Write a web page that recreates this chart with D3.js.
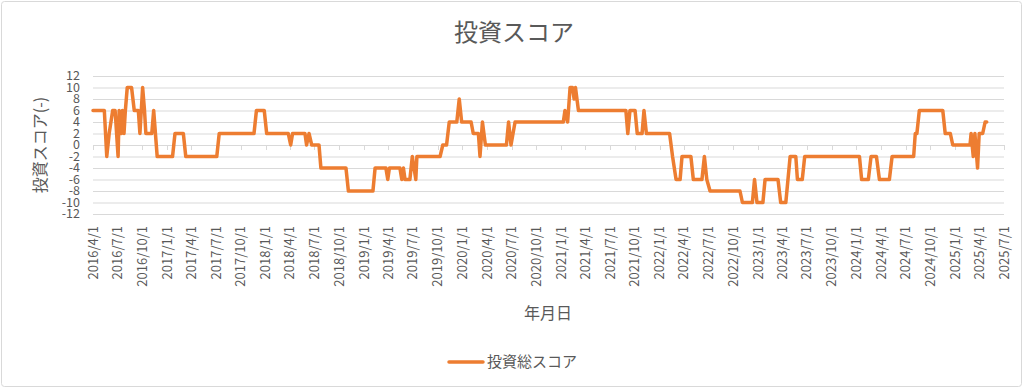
<!DOCTYPE html>
<html>
<head>
<meta charset="utf-8">
<script src="https://cdn.jsdelivr.net/npm/d3@7"></script>
<style>
  body { margin: 0; background: #fff; }
  text { font-family: "Noto Sans CJK JP", "Noto Sans", sans-serif; fill: #595959; }
</style>
</head>
<body>
<div id="chart"></div>
<script>
// 投資総スコア (date, value)
var dates = [
  "2016/4/1","2016/5/13","2016/5/22","2016/5/31","2016/6/13","2016/6/22","2016/7/3","2016/7/7",
  "2016/7/15","2016/7/19","2016/7/25","2016/7/30","2016/8/6","2016/8/22","2016/9/1","2016/9/16",
  "2016/9/22","2016/10/2","2016/10/9","2016/10/14","2016/11/5","2016/11/12","2016/11/25","2017/1/21",
  "2017/1/30","2017/3/2","2017/3/11","2017/7/4","2017/7/13","2017/11/19","2017/11/28","2017/12/27",
  "2018/1/5","2018/3/26","2018/4/4","2018/4/11","2018/5/27","2018/6/2","2018/6/11","2018/6/21",
  "2018/7/18","2018/7/25","2018/10/26","2018/11/4","2019/2/3","2019/2/11","2019/3/23","2019/3/30",
  "2019/4/5","2019/5/14","2019/5/21","2019/5/27","2019/6/2","2019/6/20","2019/6/29","2019/7/12",
  "2019/7/16","2019/10/10","2019/10/20","2019/11/3","2019/11/13","2019/12/11","2019/12/20","2019/12/29",
  "2020/2/2","2020/2/10","2020/2/29","2020/3/6","2020/3/15","2020/3/26","2020/6/12","2020/6/20",
  "2020/6/29","2020/7/14","2021/1/9","2021/1/15","2021/1/25","2021/2/3","2021/2/12","2021/2/18",
  "2021/2/23","2021/3/6","2021/8/29","2021/9/5","2021/9/13","2021/10/2","2021/10/10","2021/10/28",
  "2021/11/4","2021/11/13","2022/2/7","2022/2/18","2022/3/3","2022/3/18","2022/3/25","2022/4/27",
  "2022/5/6","2022/6/7","2022/6/16","2022/6/25","2022/7/7","2022/10/26","2022/11/4","2022/12/11",
  "2022/12/19","2022/12/28","2023/1/19","2023/1/27","2023/3/16","2023/3/26","2023/4/14","2023/4/30",
  "2023/5/21","2023/5/27","2023/6/14","2023/6/23","2024/1/12","2024/1/20","2024/2/14","2024/2/24",
  "2024/3/15","2024/3/26","2024/5/2","2024/5/12","2024/7/31","2024/8/6","2024/8/12","2024/8/21",
  "2024/11/16","2024/11/25","2024/12/14","2024/12/23","2025/2/25","2025/3/1","2025/3/9","2025/3/15",
  "2025/3/25","2025/3/31","2025/4/13","2025/4/22","2025/4/28"
];
var values = [
  6, 6, -2, 2, 6, 6, -2, 6,
  2, 6, 2, 6, 10, 10, 6, 6,
  2, 10, 6, 2, 2, 6, -2, -2,
  2, 2, -2, -2, 2, 2, 6, 6,
  2, 2, 0, 2, 2, 0, 2, 0,
  0, -4, -4, -8, -8, -4, -4, -6,
  -4, -4, -6, -4, -6, -6, -2, -6,
  -2, -2, 0, 0, 4, 4, 8, 4,
  4, 2, 2, -2, 4, 0, 0, 4,
  0, 4, 4, 6, 4, 10, 10, 8,
  10, 6, 6, 2, 6, 6, 2, 2,
  6, 2, 2, -2, -6, -6, -2, -2,
  -6, -6, -2, -6, -8, -8, -10, -10,
  -6, -10, -10, -6, -6, -10, -10, -2,
  -2, -6, -6, -2, -2, -6, -6, -2,
  -2, -6, -6, -2, -2, 2, 2, 6,
  6, 2, 2, 0, 0, 2, -2, 2,
  -4, 2, 2, 4, 4
];
var xDomain = ["2016/4/1", "2025/7/1"];
var yTicks = [-12, -10, -8, -6, -4, -2, 0, 2, 4, 6, 8, 10, 12];

var W = 1024, H = 389;
var parse = d3.timeParse("%Y/%m/%d");
var fmt = d3.timeFormat("%Y/%-m/%-d");

var svg = d3.select("#chart").append("svg")
    .attr("width", W).attr("height", H);

svg.append("rect")
    .attr("x", 1.5).attr("y", 1.5).attr("width", W - 4).attr("height", H - 4)
    .attr("rx", 3).attr("fill", "#fff").attr("stroke", "#d9d9d9");

var x = d3.scaleTime().domain(xDomain.map(parse)).range([93, 1004]);
var y = d3.scaleLinear().domain([-12, 12]).range([214, 76]);

// gridlines
svg.append("g").selectAll("line").data(yTicks).enter().append("line")
    .attr("x1", x.range()[0]).attr("x2", x.range()[1])
    .attr("y1", function(d) { return y(d) + 0.5; })
    .attr("y2", function(d) { return y(d) + 0.5; })
    .attr("stroke", "#d9d9d9").attr("stroke-width", 1);

// y labels (tightly packed, as in the original)
svg.append("g").selectAll("text").data(yTicks).enter().append("text")
    .attr("x", 80).attr("y", function(d) { return y(d); })
    .attr("dy", "0.35em").attr("text-anchor", "end")
    .style("font-size", "12.5px")
    .text(function(d) { return d; });

// quarterly ticks
var quarters = d3.timeMonth.every(3).range(parse(xDomain[0]), d3.timeDay.offset(parse(xDomain[1]), 1));

svg.append("g").selectAll("line").data(quarters).enter().append("line")
    .attr("x1", function(d) { return Math.round(x(d)) + 0.5; })
    .attr("x2", function(d) { return Math.round(x(d)) + 0.5; })
    .attr("y1", y(0)).attr("y2", y(0) + 5)
    .attr("stroke", "#d9d9d9");

svg.append("g").selectAll("text").data(quarters).enter().append("text")
    .attr("transform", function(d) { return "translate(" + x(d) + ",226) rotate(-90)"; })
    .attr("dy", "0.35em").attr("text-anchor", "end")
    .style("font-size", "13px")
    .text(function(d) { return fmt(d); });

// series
var pts = dates.map(function(d, i) { return { date: parse(d), value: values[i] }; });
var line = d3.line()
    .x(function(d) { return x(d.date); })
    .y(function(d) { return y(d.value); });

svg.append("path").datum(pts)
    .attr("d", line)
    .attr("fill", "none")
    .attr("stroke", "#ed7d31")
    .attr("stroke-width", 3.5)
    .attr("stroke-linejoin", "round")
    .attr("stroke-linecap", "round");

// titles
svg.append("text").attr("x", 514).attr("y", 33)
    .attr("text-anchor", "middle").attr("dy", "0.35em")
    .style("font-size", "24px").text("投資スコア");

svg.append("text")
    .attr("transform", "translate(40,145) rotate(-90)")
    .attr("text-anchor", "middle").attr("dy", "0.35em")
    .style("font-size", "16px").text("投資スコア(-)");

svg.append("text").attr("x", 548).attr("y", 313)
    .attr("text-anchor", "middle").attr("dy", "0.35em")
    .style("font-size", "16px").text("年月日");

// legend
svg.append("line")
    .attr("x1", 449).attr("x2", 483).attr("y1", 362).attr("y2", 362)
    .attr("stroke", "#ed7d31").attr("stroke-width", 3.5).attr("stroke-linecap", "round");
svg.append("text").attr("x", 487).attr("y", 362).attr("dy", "0.35em")
    .style("font-size", "15px").text("投資総スコア");
</script>
</body>
</html>
